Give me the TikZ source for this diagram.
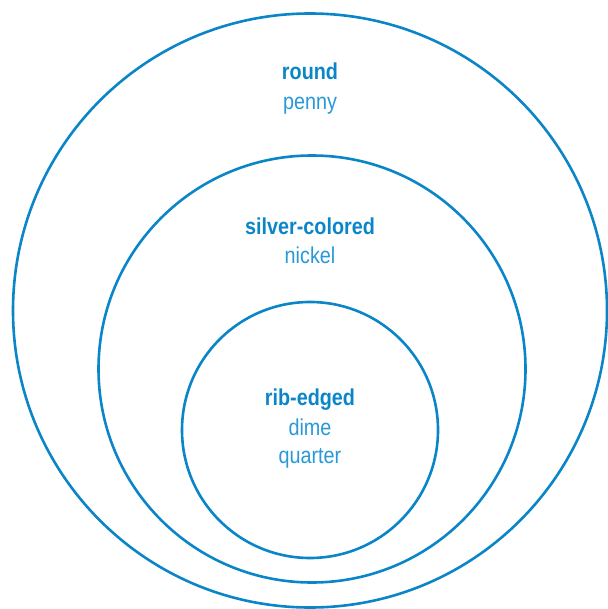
\documentclass[tikz,border=0pt]{standalone}
\usepackage{fontspec}
\setmainfont{Liberation Sans}[FakeStretch=0.86]
\usepackage{tikz}
\usetikzlibrary{positioning}
\definecolor{coinblue}{HTML}{0A86C8}
\definecolor{itemblue}{HTML}{2898D8}

\begin{document}
\begin{tikzpicture}[x=1pt,y=-1pt,every node/.style={font=\fontsize{23}{27}\selectfont,anchor=base},ring/.style={circle,draw=coinblue,line width=2.6pt,minimum size=#1,inner sep=0pt},setname/.style={font=\fontsize{23}{27}\selectfont\bfseries,text=coinblue},member/.style={text=itemblue}]
\useasboundingbox (0,0) rectangle (607,609);
\node[ring=594pt,anchor=center] (round) at (310,310.5) {};
\node[ring=427pt,anchor=center] (silver) at (312,369) {};
\node[ring=256pt,anchor=center] (rib) at (310,430) {};
\node[setname] (roundlbl) at (310,80) {round};
\node[member] (penny) at (310,110) {penny};
\node[setname] (silverlbl) at (310,234) {silver-colored};
\node[member] (nickel) at (310,263) {nickel};
\node[setname] (riblbl) at (310,405) {rib-edged};
\node[member] (dime) at (310,435) {dime};
\node[member] (quarter) at (310,463) {quarter};
\end{tikzpicture}
\end{document}
